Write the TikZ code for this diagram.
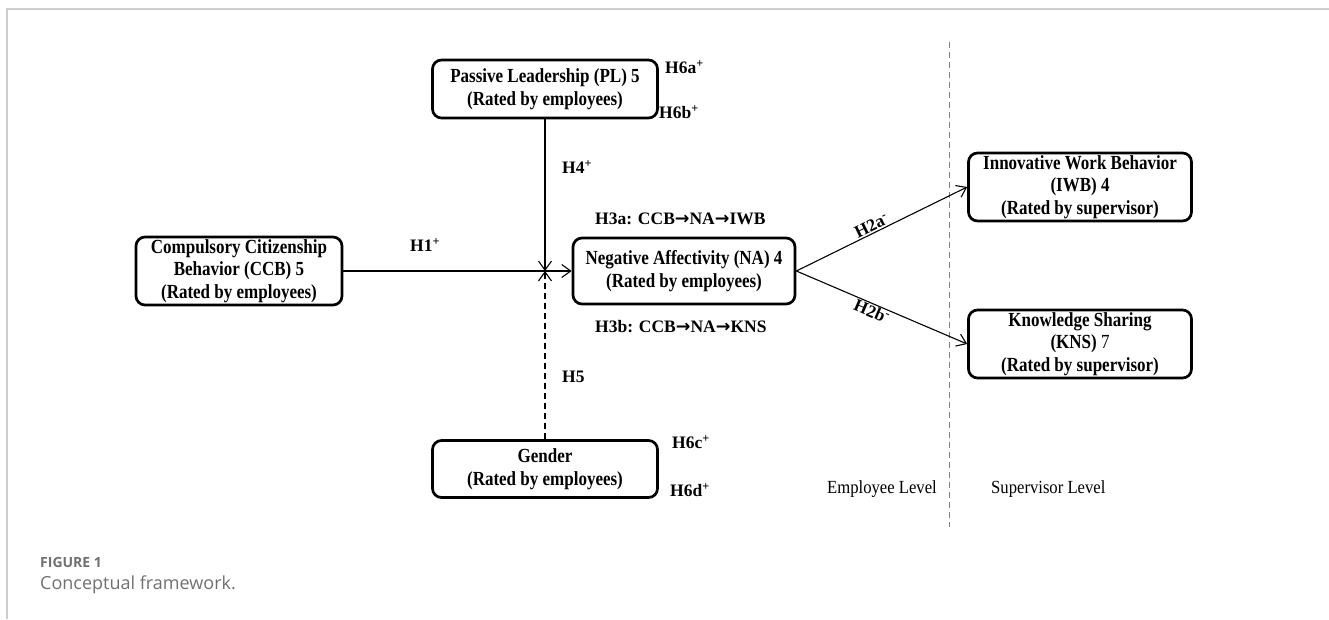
\documentclass[tikz,border=0pt]{standalone}
\usepackage{fontspec}
\usetikzlibrary{arrows.meta}
\newfontfamily\figfont[FakeStretch=0.85]{Liberation Serif}
\newfontfamily\hypfont{Liberation Serif}
\newfontfamily\lvlfont[FakeStretch=0.9]{Liberation Serif}
\newfontfamily\arrfont{DejaVu Sans}
\newfontfamily\capfont{Open Sans}
\definecolor{framegray}{RGB}{205,205,205}
\definecolor{capgray}{RGB}{112,112,112}
\newcommand{\ar}{{\arrfont\bfseries\char"2192}}
\begin{document}
\begin{tikzpicture}[x=1pt,y=-1pt]
\tikzstyle{every node}=[inner sep=2pt]
\tikzstyle{var}=[draw,line width=2.7pt,rounded corners=9pt,fill=white,align=center,font=\figfont\bfseries\fontsize{20}{22.5}\selectfont]
\tikzstyle{hlab}=[font=\hypfont\bfseries\fontsize{17.5}{18}\selectfont]
\tikzstyle{hyp}=[hlab,anchor=west]
\tikzstyle{lvl}=[anchor=west,font=\lvlfont\fontsize{18.5}{18.5}\selectfont]
\tikzstyle{link}=[line width=1.1pt,-{Straight Barb[length=9pt,width=13pt]}]
\useasboundingbox (0,0) rectangle (1329,619);
\draw[framegray,line width=2pt] (7,619) -- (7,9) -- (1329,9);
% level divider
\draw[gray,line width=1pt,dash pattern=on 6pt off 4pt] (949,42) -- (949,527);
\node[var,minimum width=225pt,minimum height=58pt](pl) at (545,89) {Passive Leadership (PL) 5\\(Rated by employees)};
\node[var,minimum width=206pt,minimum height=68pt](ccb) at (239,271) {Compulsory Citizenship\\Behavior (CCB) 5\\(Rated by employees)};
\node[var,minimum width=222pt,minimum height=66pt](na) at (684,271) {Negative Affectivity (NA) 4\\(Rated by employees)};
\node[var,minimum width=225pt,minimum height=57pt](gen) at (545,469) {Gender\\(Rated by employees)};
\node[var,minimum width=223pt,minimum height=68pt](iwb) at (1080,187) {Innovative Work Behavior\\(IWB) 4\\(Rated by supervisor)};
\node[var,minimum width=223pt,minimum height=68pt](kns) at (1080,344) {Knowledge Sharing\\(KNS) {\mdseries 7}\\(Rated by supervisor)};
\coordinate (j) at (545,271);
% paths
\draw[link] (pl) -- (j);
\draw[link,dash pattern=on 6pt off 4pt] (gen) -- (j);
\draw[link] (ccb) -- (na);
\draw[link] (na.east) -- (iwb.west) node[hlab,pos=0.46,above,sloped,inner sep=1pt]{H2a\textsuperscript{-}};
\draw[link] (na.east) -- (kns.west) node[hlab,pos=0.46,below,sloped,inner sep=1pt]{H2b\textsuperscript{-}};
% hypothesis labels
\node[hyp](h6a) at (663,67) {H6a\textsuperscript{+}};
\node[hyp](h6b) at (657,112) {H6b\textsuperscript{+}};
\node[hyp](h4) at (560,167) {H4\textsuperscript{+}};
\node[hyp](h1) at (408,245) {H1\textsuperscript{+}};
\node[hyp](h3a) at (593,219) {H3a: CCB\ar NA\ar IWB};
\node[hyp](h3b) at (593,327) {H3b: CCB\ar NA\ar KNS};
\node[hyp](h5) at (560,377) {H5};
\node[hyp](h6c) at (670,442) {H6c\textsuperscript{+}};
\node[hyp](h6d) at (668,490) {H6d\textsuperscript{+}};
\node[lvl](emp) at (825,489) {Employee Level};
\node[lvl](sup) at (989,489) {Supervisor Level};
% caption
\node[anchor=west,font=\capfont\bfseries\fontsize{14}{14}\selectfont,text=capgray](fig) at (38,562) {FIGURE 1};
\node[anchor=west,font=\capfont\fontsize{18}{18}\selectfont,text=capgray](cap) at (38,585) {Conceptual framework.};
\end{tikzpicture}
\end{document}
